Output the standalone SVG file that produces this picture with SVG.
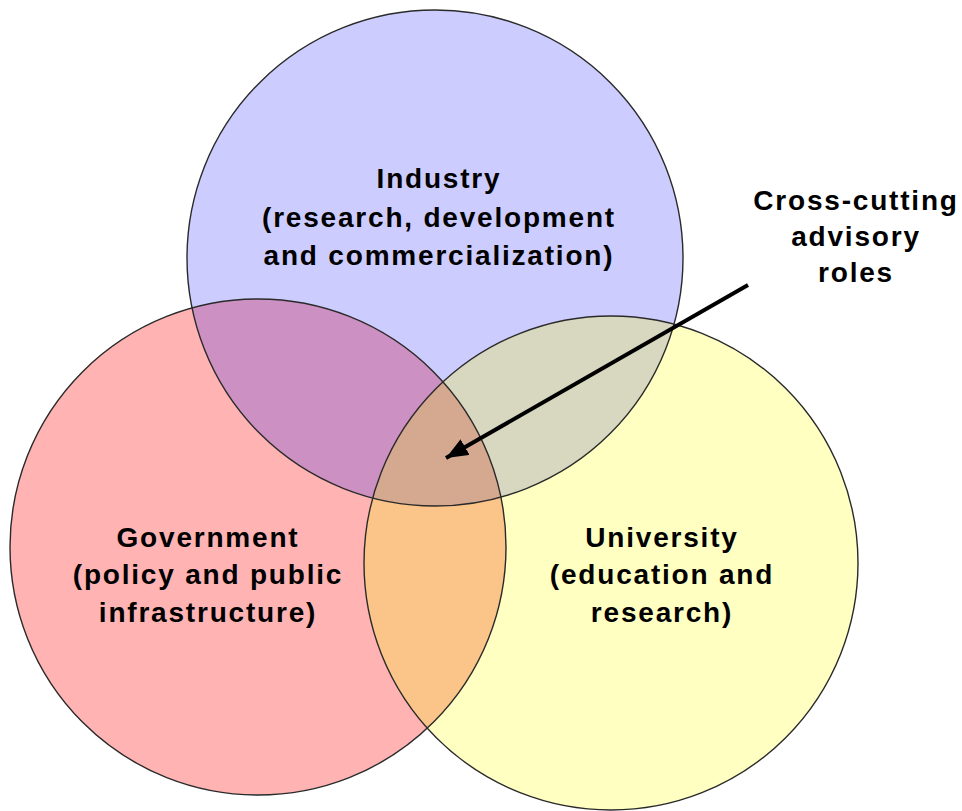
<svg xmlns="http://www.w3.org/2000/svg" xmlns:xlink="http://www.w3.org/1999/xlink" width="962" height="811" viewBox="0 0 962 811">
  <style>
    .lbl { font-family: "Liberation Sans", Arial, sans-serif; font-size: 28px; font-weight: bold; fill: #000; text-anchor: middle; letter-spacing: 1.8px; }
    .outline { fill: none; stroke: #2a2a2a; stroke-width: 1.4; }
    .arrow { stroke: #000; stroke-width: 4; fill: none; }
  </style>
  <defs>
    <circle id="cInd" cx="435" cy="258" r="248"/>
    <circle id="cGov" cx="258" cy="547" r="248"/>
    <circle id="cUni" cx="611" cy="563" r="247"/>
    <clipPath id="clipInd"><use xlink:href="#cInd"/></clipPath>
    <clipPath id="clipGov"><use xlink:href="#cGov"/></clipPath>
    <clipPath id="clipUni"><use xlink:href="#cUni"/></clipPath>
    <marker id="head" markerUnits="userSpaceOnUse" markerWidth="26" markerHeight="20" refX="22" refY="9" orient="auto">
      <path d="M0,0 L22,9 L0,18 Z" fill="#000"/>
    </marker>
  </defs>
  <rect width="962" height="811" fill="#ffffff"/>

  <g id="fills">
    <use xlink:href="#cInd" fill="#ccccff"/>
    <use xlink:href="#cGov" fill="#ffb3b3"/>
    <use xlink:href="#cUni" fill="#ffffc2"/>
  </g>
  <g id="overlaps">
    <use xlink:href="#cGov" fill="#cc90c2" clip-path="url(#clipInd)"/>
    <use xlink:href="#cUni" fill="#d8d8c0" clip-path="url(#clipInd)"/>
    <use xlink:href="#cUni" fill="#fbc58a" clip-path="url(#clipGov)"/>
    <g clip-path="url(#clipGov)">
      <use xlink:href="#cUni" fill="#d5a890" clip-path="url(#clipInd)"/>
    </g>
  </g>

  <g id="industry">
    <use xlink:href="#cInd" class="outline"/>
    <text class="lbl" x="439" y="188">Industry</text>
    <text class="lbl" x="439" y="227">(research, development</text>
    <text class="lbl" x="439" y="265">and commercialization)</text>
  </g>
  <g id="government">
    <use xlink:href="#cGov" class="outline"/>
    <text class="lbl" x="208" y="547">Government</text>
    <text class="lbl" x="208" y="584">(policy and public</text>
    <text class="lbl" x="208" y="622">infrastructure)</text>
  </g>
  <g id="university">
    <use xlink:href="#cUni" class="outline"/>
    <text class="lbl" x="662" y="547">University</text>
    <text class="lbl" x="662" y="584">(education and</text>
    <text class="lbl" x="662" y="622">research)</text>
  </g>
  <g id="cross-cutting">
    <text class="lbl" x="856" y="210">Cross-cutting</text>
    <text class="lbl" x="856" y="246">advisory</text>
    <text class="lbl" x="856" y="282">roles</text>
  </g>

  <g id="connectors">
    <line class="arrow" x1="748" y1="285" x2="446" y2="458" marker-end="url(#head)"/>
  </g>
</svg>
